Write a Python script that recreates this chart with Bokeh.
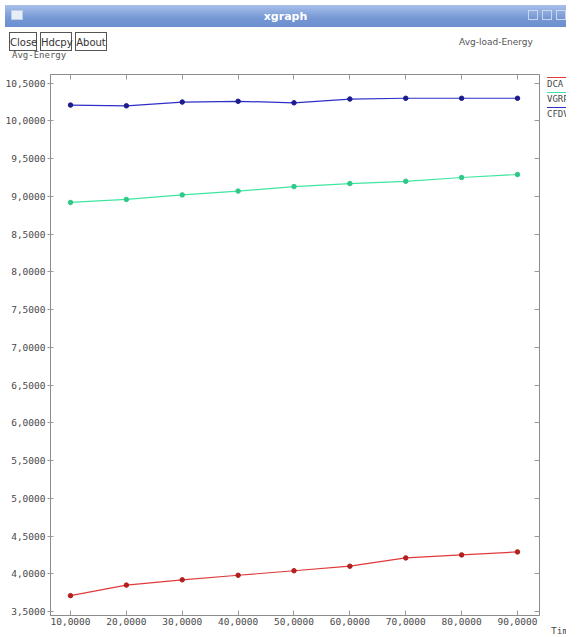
from bokeh.plotting import figure
from bokeh.models import (Range1d, LinearAxis, FixedTicker, CustomJSTickFormatter, Div)
from bokeh.layouts import column, row
from bokeh.embed import file_html
from bokeh.resources import INLINE

# ---- data ----
times = [10, 20, 30, 40, 50, 60, 70, 80, 90]
dca = [3.71, 3.85, 3.92, 3.98, 4.04, 4.10, 4.21, 4.25, 4.29]
vgrp = [8.92, 8.96, 9.02, 9.07, 9.13, 9.17, 9.20, 9.25, 9.29]
cfdvsr = [10.21, 10.20, 10.25, 10.26, 10.24, 10.29, 10.30, 10.30, 10.30]
series_names = ["DCA", "VGRP", "CFDVSR"]
y_ticks = [3.5, 4.0, 4.5, 5.0, 5.5, 6.0, 6.5, 7.0, 7.5, 8.0, 8.5, 9.0, 9.5, 10.0, 10.5]
x_ticks = [10, 20, 30, 40, 50, 60, 70, 80, 90]
title_text = "Avg-load-Energy"
y_label = "Avg-Energy"
x_label = "Time"

colors = ["#e03a3a", "#3fe6a0", "#2f2fc8"]
mcolors = ["#b02020", "#30c888", "#1c1c8c"]

X0, X1 = 6.42, 93.94
Y0, Y1 = 3.447, 10.615

FONT = "DejaVu Sans Mono"
LBL = "#4a4a4a"

btn = ("position:absolute;top:27px;height:19px;border:1px solid #555;background:#fff;"
       "font-size:10px;line-height:19px;text-align:center;color:#333;")
header = Div(width=561, height=56, text="""
<div style="position:relative;width:561px;height:56px;background:#fff;font-family:'DejaVu Sans',sans-serif;overflow:hidden;">
  <div style="position:absolute;left:0;top:0;width:561px;height:22px;background:linear-gradient(#a9c1ea,#7597d4 60%,#6c8fcf);"></div>
  <div style="position:absolute;left:6px;top:5px;width:12px;height:10px;background:#e8eef8;border:1px solid #c0cfe8;"></div>
  <div style="position:absolute;left:0;top:4px;width:561px;text-align:center;color:#ffffff;font-size:11px;font-weight:bold;">xgraph</div>
  <div style="position:absolute;left:523px;top:5px;width:10px;height:10px;border:1px solid #c8d6f0;"></div>
  <div style="position:absolute;left:537px;top:5px;width:10px;height:10px;border:1px solid #c8d6f0;"></div>
  <div style="position:absolute;left:551px;top:5px;width:10px;height:10px;border:1px solid #c8d6f0;"></div>
  <div style="position:absolute;left:7px;top:44px;font-size:9px;color:#555;font-family:'DejaVu Sans Mono',monospace;">""" + y_label + """</div>
  <div style=\"""" + btn + """left:4px;width:28px;">Close</div>
  <div style=\"""" + btn + """left:35px;width:32px;">Hdcpy</div>
  <div style=\"""" + btn + """left:70px;width:32px;">About</div>
  <div style="position:absolute;left:454px;top:31px;font-size:9px;color:#555;">""" + title_text + """</div>
</div>
""")

p = figure(width=542, height=565, x_range=Range1d(X0, X1), y_range=Range1d(Y0, Y1),
           output_backend="svg", toolbar_location=None,
           min_border_left=50, min_border_right=3, min_border_top=8, min_border_bottom=16,
           background_fill_color="white", border_fill_color="white",
           outline_line_color="#8c8c8c", outline_line_width=1)
p.xgrid.visible = False
p.ygrid.visible = False

fmt = CustomJSTickFormatter(code="return tick.toFixed(4).replace('.', ',');")
for ax, ticks in ((p.xaxis[0], x_ticks), (p.yaxis[0], y_ticks)):
    ax.ticker = FixedTicker(ticks=ticks)
    ax.formatter = fmt
    ax.major_label_text_font = FONT
    ax.major_label_text_font_size = "9.5px"
    ax.major_label_text_color = LBL
    ax.axis_line_color = "#8c8c8c"
    ax.major_tick_line_color = "#999999"
    ax.minor_tick_line_color = None
    ax.major_label_standoff = 2
p.xaxis[0].major_tick_in = 5
p.xaxis[0].major_tick_out = 0
p.yaxis[0].major_tick_in = 3
p.yaxis[0].major_tick_out = 3

blank = CustomJSTickFormatter(code="return '';")
for loc, ticks in (("right", y_ticks), ("above", x_ticks)):
    a = LinearAxis(ticker=FixedTicker(ticks=ticks), formatter=blank,
                   axis_line_color=None, major_tick_in=5, major_tick_out=0,
                   minor_tick_line_color=None, major_tick_line_color="#999999",
                   major_label_standoff=0)
    p.add_layout(a, loc)

for vals, c, mc in zip([dca, vgrp, cfdvsr], colors, mcolors):
    p.line(times, vals, line_color=c, line_width=1.2)
    p.scatter(times, vals, size=4.5, fill_color=mc, line_color=mc)

# xgraph-style legend and x label, right of the frame
items = ""
for i, (name, c) in enumerate(zip(series_names, colors)):
    top = 6 + 15 * i
    items += ('<div style="position:absolute;left:0;top:%dpx;width:19px;height:0;border-top:1.5px solid %s;"></div>'
              % (top, c))
    items += ('<div style="position:absolute;left:0;top:%dpx;font-size:9px;line-height:11px;color:%s;'
              'font-family:\'DejaVu Sans Mono\',monospace;white-space:nowrap;">%s</div>' % (top + 2, LBL, name))
items += ('<div style="position:absolute;left:4px;top:553px;font-size:9.5px;color:%s;'
          'font-family:\'DejaVu Sans Mono\',monospace;white-space:nowrap;">%s</div>' % (LBL, x_label))
side = Div(width=19, height=565,
           text='<div style="position:relative;width:19px;height:565px;overflow:hidden;background:#fff;">'
                + items + '</div>')

layout = column(header, row(p, side, spacing=0), spacing=0)
open("out.html", "w").write(file_html(layout, INLINE))
